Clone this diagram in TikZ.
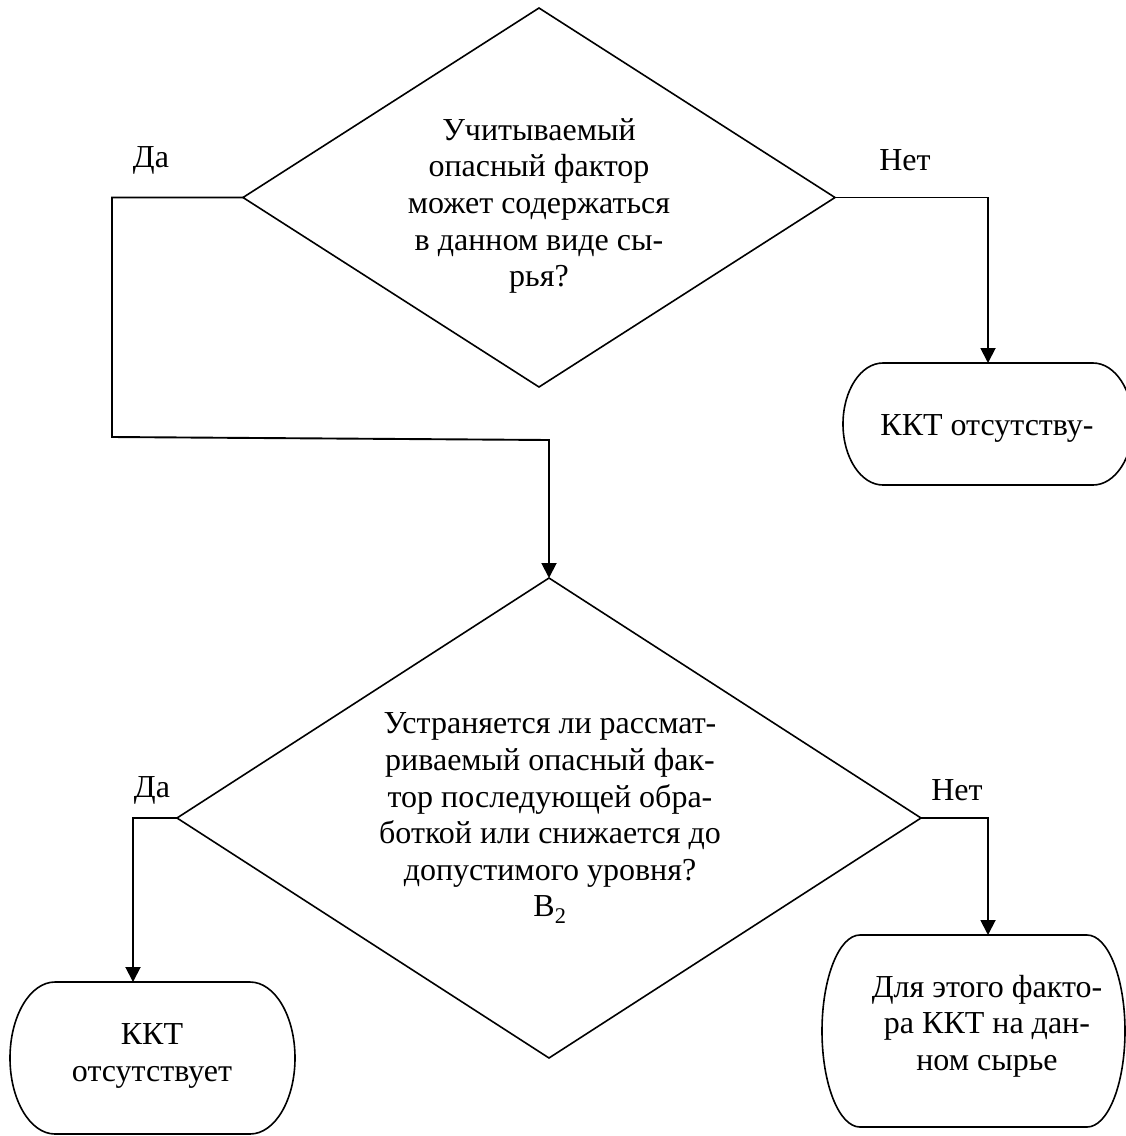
\documentclass[tikz,border=0pt]{standalone}
\usepackage{fontspec}
\setmainfont{Liberation Serif}
\usetikzlibrary{arrows.meta,shapes.geometric}
\begin{document}
\begin{tikzpicture}[x=1pt,y=-1pt,
  shapeline/.style={draw=black,line width=1.6pt,line join=miter},
  decision/.style={diamond,shapeline,inner sep=0pt,outer sep=0pt},
  termbox/.style={rectangle,inner sep=0pt,outer sep=0pt},
  txt/.style={align=center,font=\fontsize{32}{36.6}\selectfont,inner sep=0pt},
  lbl/.style={font=\fontsize{32}{36.6}\selectfont,inner sep=0pt},
  conn/.style={line width=1.9pt,line join=miter},
  arr/.style={conn,-{Triangle[length=15pt,width=15pt]}}
]
\useasboundingbox (0,0) rectangle (1126,1136);
\fill[white] (0,0) rectangle (1126,1136);

% decisions
\node[decision,minimum width=592pt,minimum height=379pt] (d1) at (539,197.5) {};
\node[decision,minimum width=744pt,minimum height=480pt] (d2) at (549,818) {};
\node[txt] (q1) at (539,206) {Учитываемый\\опасный фактор\\может содержаться\\в данном виде сы-\\рья?};
\node[txt] (q2) at (550,818) {Устраняется ли рассмат-\\риваемый опасный фак-\\тор последующей обра-\\боткой или снижается до\\допустимого уровня?\\В\textsubscript{2}};

% terminators
\node[termbox,minimum width=290pt,minimum height=122pt] (t1) at (988,424) {};
\node[termbox,minimum width=285pt,minimum height=152pt] (t2) at (152.5,1058) {};
\node[termbox,minimum width=303pt,minimum height=192pt] (t3) at (973.5,1031) {};

\draw[shapeline] ([xshift=40pt]t1.north west) -- ([xshift=-40pt]t1.north east)
  arc[start angle=90,end angle=-90,x radius=40pt,y radius=61pt]
  -- ([xshift=40pt]t1.south west)
  arc[start angle=270,end angle=90,x radius=40pt,y radius=61pt] -- cycle;
\draw[shapeline] ([xshift=45pt]t2.north west) -- ([xshift=-45pt]t2.north east)
  arc[start angle=90,end angle=-90,x radius=45pt,y radius=76pt]
  -- ([xshift=45pt]t2.south west)
  arc[start angle=270,end angle=90,x radius=45pt,y radius=76pt] -- cycle;
\draw[shapeline] ([xshift=38pt]t3.north west) -- ([xshift=-38pt]t3.north east)
  arc[start angle=90,end angle=-90,x radius=38pt,y radius=96pt]
  -- ([xshift=38pt]t3.south west)
  arc[start angle=270,end angle=90,x radius=38pt,y radius=96pt] -- cycle;

\node[txt] (a1) at (987,428) {ККТ отсутству-};
\node[txt] (a2) at (152,1056) {ККТ\\отсутствует};
\node[txt] (a3) at (987,1026) {Для этого факто-\\ра ККТ на дан-\\ном сырье};

% labels
\node[lbl] (y1) at (151,160) {Да};
\node[lbl] (n1) at (905,160) {Нет};
\node[lbl] (y2) at (152,790) {Да};
\node[lbl] (n2) at (957,790) {Нет};

% connectors
\coordinate (c1) at (112,197.5);
\coordinate (c2) at (112,437);
\coordinate (c3) at (549,440);
\draw[arr] (d1.west) -- (c1) -- (c2) -- (c3) -- (d2.north);
\coordinate (c4) at (988,197.5);
\draw[arr] (d1.east) -- (c4) -- (t1.north);
\coordinate (c5) at (133,818);
\draw[arr] (d2.west) -- (c5) -- (c5 |- t2.north);
\coordinate (c6) at (988,818);
\draw[arr] (d2.east) -- (c6) -- (c6 |- t3.north);
\end{tikzpicture}
\end{document}
